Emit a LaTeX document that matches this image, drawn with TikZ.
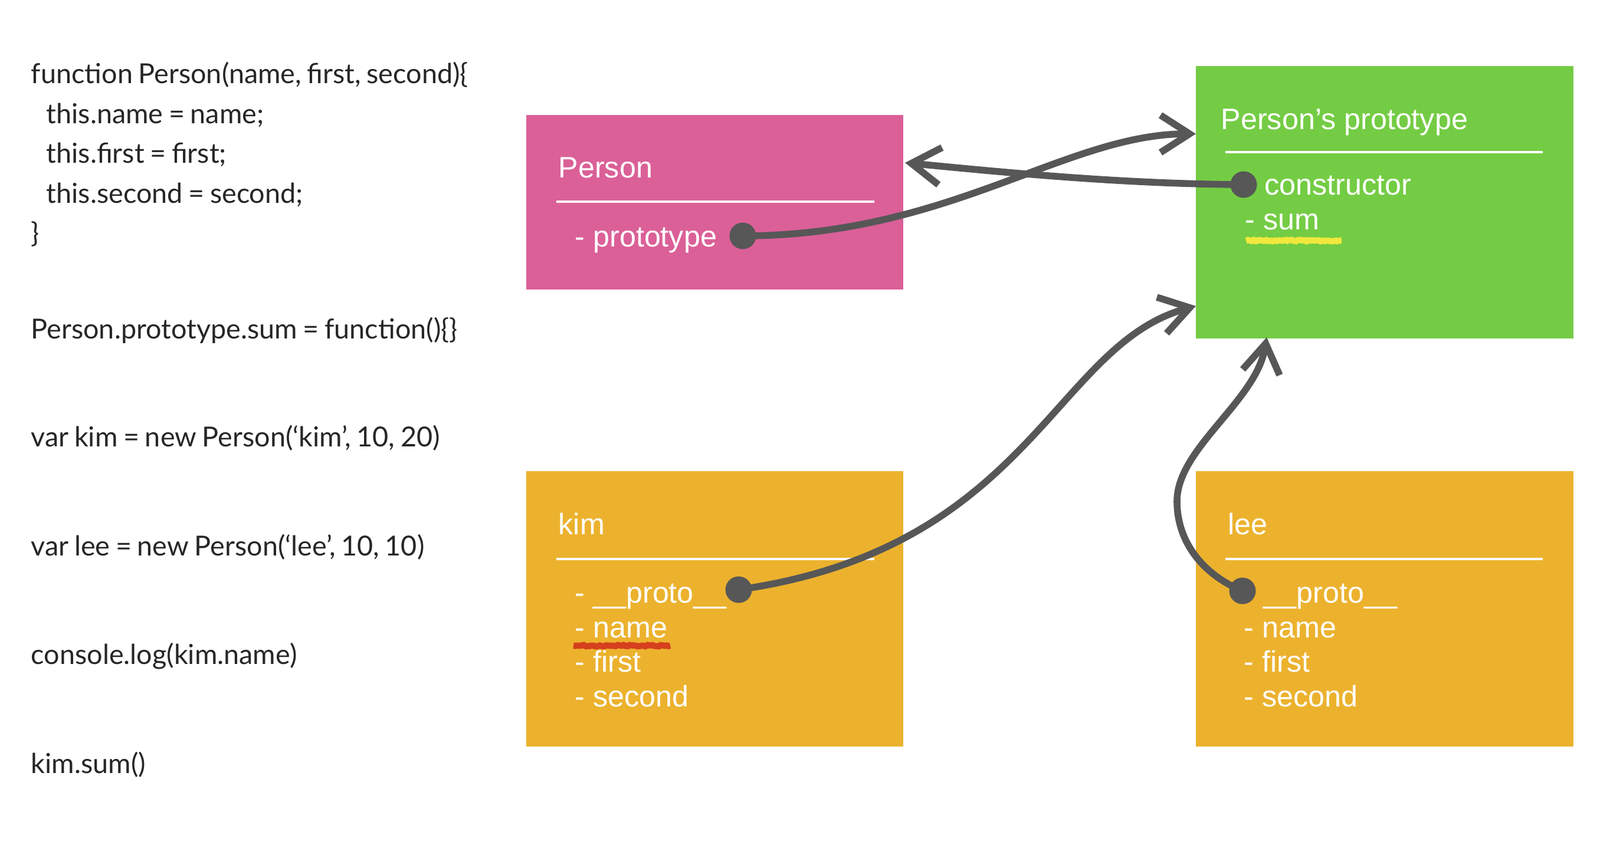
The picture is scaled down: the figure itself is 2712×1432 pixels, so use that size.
\documentclass[tikz,border=0pt]{standalone}
\usepackage{fontspec}
\setmainfont{Liberation Sans}
\newfontfamily\codefont[WordSpace=0.8]{Lato}
\usetikzlibrary{arrows.meta,fit,decorations.pathmorphing}

\definecolor{pinkbox}{RGB}{219,96,152}
\definecolor{greenbox}{RGB}{116,204,68}
\definecolor{goldbox}{RGB}{236,178,46}
\definecolor{linkgray}{RGB}{87,87,87}
\definecolor{markyellow}{RGB}{240,232,60}
\definecolor{markred}{RGB}{214,64,30}

\begin{document}
\begin{tikzpicture}[x=0.01cm,y=-0.01cm,
  code/.style={anchor=mid west,inner sep=0pt,text=black!85,font=\codefont\fontsize{13.3}{16}\selectfont},
  box/.style={fill=#1,inner sep=0pt},
  title/.style={anchor=mid west,inner sep=0pt,text=white,font=\fontsize{14.3}{17}\selectfont},
  rule/.style={white,line width=0.9pt},
  dot/.style={circle,fill=linkgray,inner sep=0pt,minimum size=0.45cm},
  link/.style={linkgray,line width=3.3pt,-{Straight Barb[length=14pt,width=18pt]}},
  marker/.style={#1,line width=3pt,decorate,decoration={random steps,segment length=1pt,amplitude=0.35pt}}]

\useasboundingbox (0,0) rectangle (2712,1432);

% the code
\node[code] (c1) at (52,132) {function Person(name, first, second)\{};
\node[code] (c2) at (78,200) {this.name = name;};
\node[code] (c3) at (78,267) {this.first = first;};
\node[code] (c4) at (78,335) {this.second = second;};
\node[code] (c5) at (52,402) {\}};
\node[code] (c6) at (52,565) {Person.prototype.sum = function()\{\}};
\node[code] (c7) at (52,748) {var kim = new Person(‘kim’, 10, 20)};
\node[code] (c8) at (52,933) {var lee = new Person(‘lee’, 10, 10)};
\node[code] (c9) at (52,1117) {console.log(kim.name)};
\node[code] (c10) at (52,1302) {kim.sum()};

% the objects
\node[box=pinkbox,fit={(892,195) (1531,491)}] (person) {};
\node[box=greenbox,fit={(2027,112) (2667,574)}] (proto) {};
\node[box=goldbox,fit={(892,799) (1531,1266)}] (kim) {};
\node[box=goldbox,fit={(2027,799) (2667,1266)}] (lee) {};

\node[title] (person-t) at (946,292) {Person};
\draw[rule] (943,342) -- (1482,342);
\node[title] (person-1) at (974,409) {- prototype};
\node[dot] (pdot) at (1259,400) {};

\node[title] (proto-t) at (2069,210) {Person’s prototype};
\draw[rule] (2077,258) -- (2615,258);
\node[dot] (cdot) at (2108,313) {};
\node[title] (proto-1) at (2143,321) {constructor};
\node[title] (proto-2) at (2110,380) {- sum};
\draw[marker=markyellow] (2112,408) -- (2274,408);

\node[title] (kim-t) at (946,897) {kim};
\draw[rule] (943,948) -- (1482,948);
\foreach \y/\t [count=\i] in {1013/- \_\_proto\_\_, 1072/- name, 1130/- first, 1189/- second}
  \node[title] (kim-\i) at (974,\y) {\t};
\node[dot] (kdot) at (1252,1000) {};
\draw[marker=markred] (972,1095) -- (1136,1095);

\node[title] (lee-t) at (2081,897) {lee};
\draw[rule] (2077,948) -- (2615,948);
\node[dot] (ldot) at (2106,1002) {};
\node[title] (lee-1) at (2141,1013) {\_\_proto\_\_};
\foreach \y/\t [count=\i from 2] in {1072/- name, 1130/- first, 1189/- second}
  \node[title] (lee-\i) at (2108,\y) {\t};

% links
\coordinate (person-in) at (1534,276);
\coordinate (proto-in1) at (2027,227);
\coordinate (proto-in2) at (2027,519);
\coordinate (proto-in3) at (2147,572);

\draw[link] (pdot.center) .. controls (1609,400) and (1807,227) .. (proto-in1);
\draw[link] (cdot.center) .. controls (1900,312) and (1700,292) .. (person-in);
\draw[link] (kdot.center) .. controls (1748,929) and (1786,584) .. (proto-in2);
\draw[link] (ldot.center) .. controls (2040,975) and (1995,920) .. (1995,850)
  .. controls (1995,760) and (2130,680) .. (proto-in3);
\end{tikzpicture}
\end{document}
